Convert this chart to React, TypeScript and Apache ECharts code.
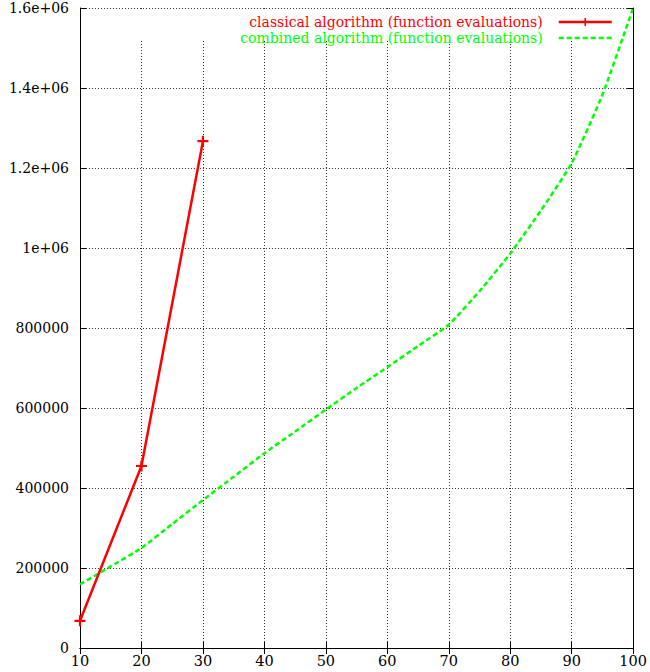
import React, { useEffect, useRef } from "react";
import * as echarts from "echarts";

const classicalName = "classical algorithm (function evaluations)";
const combinedName = "combined algorithm (function evaluations)";

const classicalX = [10, 20, 30];
const classicalY = [68000, 455000, 1267000];

const combinedX = [10, 15, 20, 25, 30, 35, 40, 45, 50, 55, 60, 65, 70, 75, 80, 85, 90, 95, 100];
const combinedY = [
  159000, 204000, 250000, 310000, 370000, 428000, 487000, 541000, 596000, 650000,
  702000, 755000, 808000, 892000, 986000, 1094000, 1212000, 1383000, 1600000,
];

const yTickValues = [0, 200000, 400000, 600000, 800000, 1000000, 1200000, 1400000, 1600000];
const yTickLabels = ["0", "200000", "400000", "600000", "800000", "1e+06", "1.2e+06", "1.4e+06", "1.6e+06"];

const FONT = "DejaVu Serif";

export default function App() {
  const ref = useRef<HTMLDivElement>(null);
  useEffect(() => {
    if (!ref.current) return;
    const chart = echarts.init(ref.current, undefined, { renderer: "svg" });
    const plus = "path://M4,0h2v4h4v2h-4v4h-2v-4h-4v-2h4z";
    const grid = { left: 80, right: 14, top: 8, bottom: 24, containLabel: false };
    const gridLine = { show: true, lineStyle: { color: "#333", type: [1, 2], width: 1 } };
    const axisLine = { show: true, lineStyle: { color: "#000", width: 1 } };
    chart.setOption({
      animation: false,
      backgroundColor: "#fff",
      grid,
      graphic: [
        {
          type: "rect",
          z: 1,
          shape: { x: 81, y: 9, width: 554, height: 32 },
          style: { fill: "#fff" },
        },
      ],
      legend: [
        {
          data: [{ name: classicalName }],
          orient: "vertical",
          align: "right",
          right: 37,
          top: 15,
          padding: 0,
          itemWidth: 53,
          itemHeight: 10,
          lineStyle: { color: "#ff0000", width: 2.5 },
          textStyle: { color: "#ff0000", fontFamily: FONT, fontSize: 14, padding: [0, 11, 0, 0] },
        },
        {
          data: [{ name: combinedName }],
          orient: "vertical",
          align: "right",
          right: 37,
          top: 31,
          padding: 0,
          itemWidth: 53,
          itemHeight: 10,
          itemStyle: { opacity: 0 },
          lineStyle: { color: "#00ff00", width: 2.5, type: [5, 3], opacity: 1 },
          textStyle: { color: "#00ff00", fontFamily: FONT, fontSize: 14, padding: [0, 11, 0, 0] },
        },
      ],
      xAxis: [
        {
          type: "value",
          min: 10,
          max: 100,
          interval: 10,
          position: "bottom",
          axisLine,
          axisTick: { show: true, inside: true, length: 6, lineStyle: { color: "#000" } },
          axisLabel: { color: "#000", fontFamily: FONT, fontSize: 14.5, margin: 5 },
          splitLine: gridLine,
        },
        {
          type: "value",
          min: 10,
          max: 100,
          interval: 10,
          position: "top",
          z: 5,
          axisLine,
          axisTick: { show: true, inside: true, length: 6, lineStyle: { color: "#000" } },
          axisLabel: { show: false },
          splitLine: { show: false },
        },
      ],
      yAxis: [
        {
          type: "value",
          min: 0,
          max: 1600000,
          interval: 200000,
          position: "left",
          axisLine,
          axisTick: { show: true, inside: true, length: 6, lineStyle: { color: "#000" } },
          axisLabel: {
            color: "#000",
            fontFamily: FONT,
            fontSize: 14,
            margin: 11,
            formatter: (v: number) => {
              const i = yTickValues.indexOf(v);
              return i >= 0 ? yTickLabels[i] : String(v);
            },
          },
          splitLine: gridLine,
        },
        {
          type: "value",
          min: 0,
          max: 1600000,
          interval: 200000,
          position: "right",
          z: 5,
          axisLine,
          axisTick: { show: true, inside: true, length: 6, lineStyle: { color: "#000" } },
          axisLabel: { show: false },
          splitLine: { show: false },
        },
      ],
      series: [
        {
          name: classicalName,
          type: "line",
          data: classicalX.map((x, i) => [x, classicalY[i]]),
          symbol: plus,
          symbolSize: 11,
          showSymbol: true,
          itemStyle: { color: "#ff0000" },
          lineStyle: { color: "#ff0000", width: 2.5 },
          z: 3,
        },
        {
          name: combinedName,
          type: "line",
          data: combinedX.map((x, i) => [x, combinedY[i]]),
          smooth: 0.15,
          showSymbol: false,
          symbol: "none",
          itemStyle: { color: "#00ff00" },
          lineStyle: { color: "#00ff00", width: 2.5, type: [5, 3] },
          z: 2,
        },
      ],
    });
    return () => chart.dispose();
  }, []);
  return <div ref={ref} style={{ width: 650, height: 672, position: "absolute", left: 0, top: 0 }} />;
}
